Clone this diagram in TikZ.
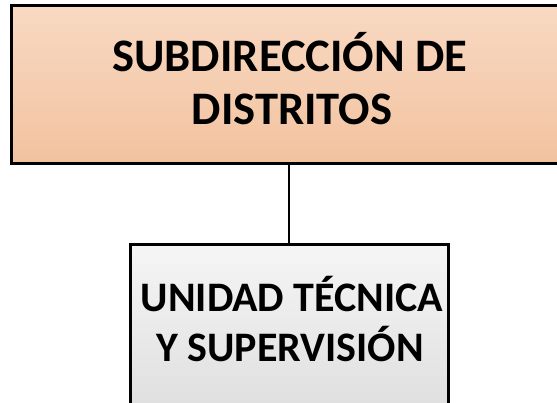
\documentclass[tikz,border=0pt]{standalone}
\usepackage{fontspec}
\setmainfont{Carlito}
\usetikzlibrary{positioning}
\definecolor{peachtop}{HTML}{F8D9C2}
\definecolor{peachbot}{HTML}{F2C29F}
\definecolor{greytop}{HTML}{F5F5F5}
\definecolor{greybot}{HTML}{DDDDDD}
\tikzset{every node/.style={font=\bfseries},
  orgbox/.style={draw=black,line width=3pt,inner sep=0pt,outer sep=0pt},
  orgline/.style={draw=black,line width=2.5pt}}
\newcommand{\fBig}{\fontsize{46.6}{55}\selectfont\bfseries}
\newcommand{\fMid}{\fontsize{42}{50}\selectfont\bfseries}

\begin{document}
\begin{tikzpicture}[x=1pt,y=-1pt,
    txt/.style={inner sep=0pt,outer sep=0pt,anchor=base}]
  \path[use as bounding box] (0,0) rectangle (557,403);
  \clip (0,0) rectangle (557,403);

  % Subdirección (runs past the right edge of the page)
  \node[orgbox,top color=peachtop,bottom color=peachbot,
    minimum width=558pt,minimum height=158pt] (subdir) at (290,85) {};
  \node[txt] (subdirA) at (290,72) {\fBig SUBDIRECCIÓN DE};
  \node[txt] (subdirB) at (292,125) {\fBig DISTRITOS};

  % Unidad técnica (runs past the bottom edge)
  \node[orgbox,top color=greytop,bottom color=greybot,
    minimum width=318pt,minimum height=180pt] (unidad) at (289,335) {};
  \node[txt] (unidadA) at (292,312) {\fMid UNIDAD TÉCNICA};
  \node[txt] (unidadB) at (290,362) {\fMid Y SUPERVISIÓN};

  \draw[orgline] (subdir.south -| unidad.north) -- (unidad.north);
\end{tikzpicture}
\end{document}
